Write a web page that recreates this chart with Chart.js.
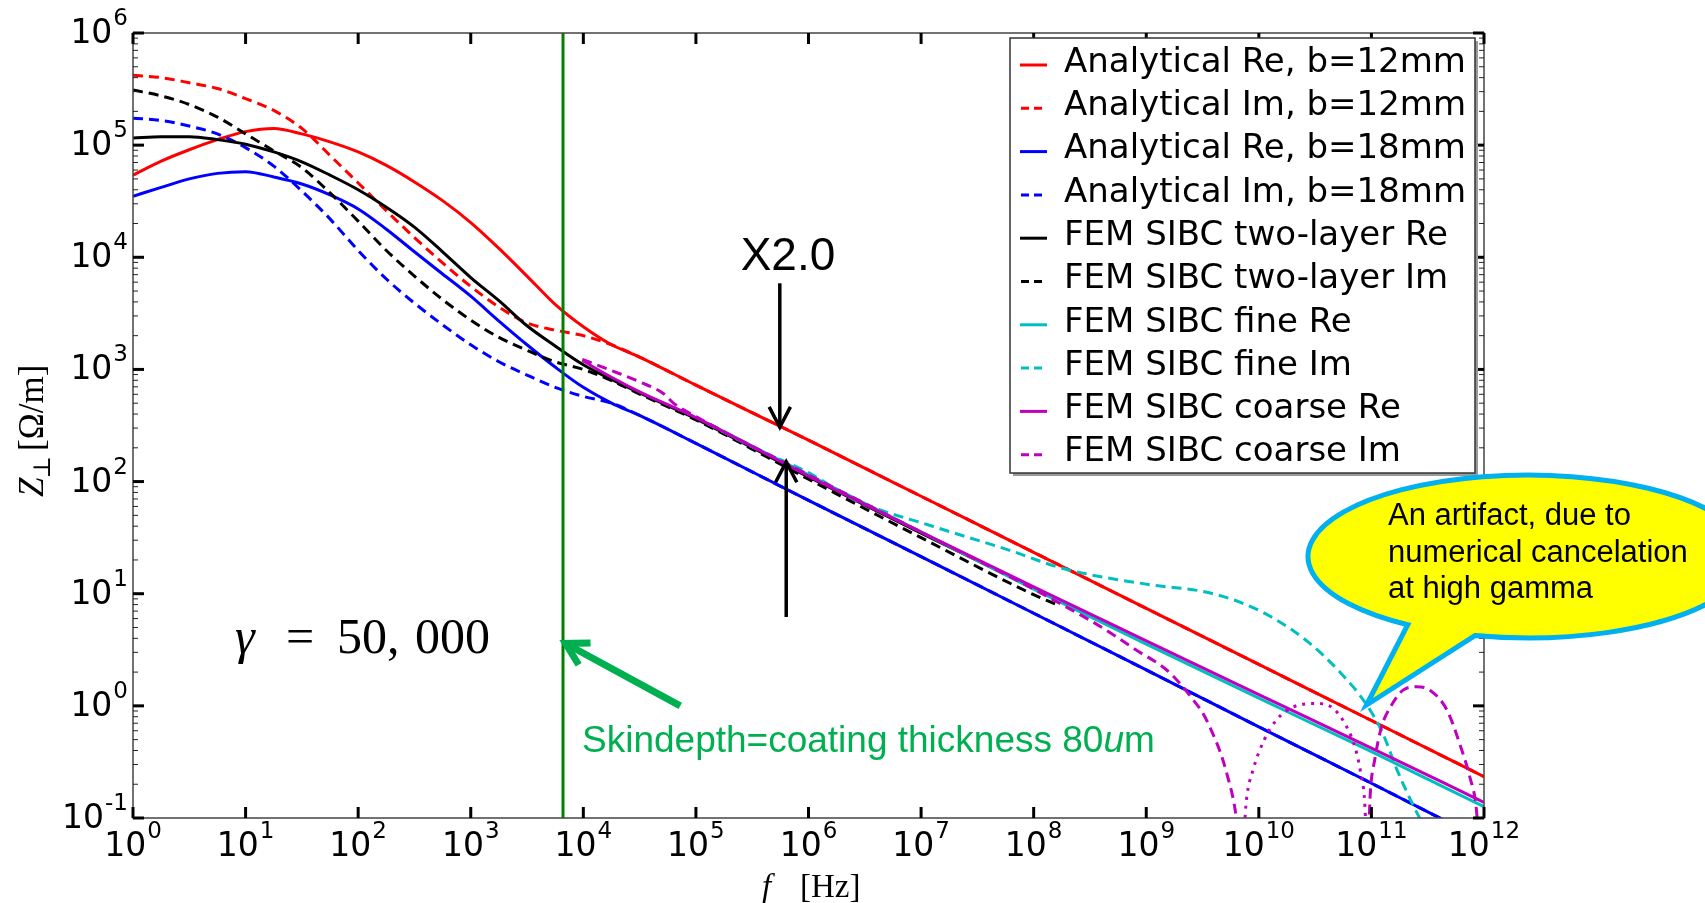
<!DOCTYPE html>
<html>
<head>
<meta charset="utf-8">
<script src="https://cdn.jsdelivr.net/npm/chart.js@4.4.1/dist/chart.umd.min.js"></script>
<style>
  html, body { margin: 0; padding: 0; background: #fff; }
  #wrap { width: 1705px; height: 903px; }
</style>
</head>
<body>
<div id="wrap"><canvas id="zChart" width="1705" height="903"></canvas></div>
<script>
// frequencies [Hz]
const fAna = [1, 1.78, 3.16, 5.62, 10, 17.8, 31.6, 56.2, 100, 178, 316, 562, 1e3, 1.78e3, 3.16e3, 5.62e3,
              1e4, 1.78e4, 3.16e4, 1e5, 1e6, 1e7, 1e8, 1e9, 1e10, 1e11, 1e12];
const reB12 = [5.4e4, 7.2e4, 9.1e4, 1.12e5, 1.32e5, 1.41e5, 1.26e5, 1.07e5, 8.7e4, 6.6e4, 4.7e4, 3.2e4, 2.04e4, 1.2e4, 6.8e3, 3.8e3,
               2.4e3, 1.66e3, 1.29e3, 724, 234, 74, 23.4, 7.4, 2.34, 0.74, 0.234];
const imB12 = [4.2e5, 4.0e5, 3.6e5, 3.2e5, 2.6e5, 2.04e5, 1.41e5, 8.1e4, 4.6e4, 2.6e4, 1.5e4, 8.9e3, 5.5e3, 3.6e3, 2.6e3, 2.24e3,
               2.0e3, 1.66e3, 1.29e3, 724, 234, 74, 23.4, 7.4, 2.34, 0.74, 0.234];
const reB18 = [3.5e4, 4.2e4, 5.0e4, 5.6e4, 5.8e4, 5.2e4, 4.5e4, 3.6e4, 2.7e4, 1.78e4, 1.12e4, 7.1e3, 4.5e3, 2.7e3, 1.66e3, 1.05e3,
               692, 501, 389, 219, 68, 21.4, 6.7, 2.09, 0.65, 0.204, 0.063];
const imB18 = [1.74e5, 1.66e5, 1.48e5, 1.26e5, 9.5e4, 6.5e4, 3.9e4, 2.2e4, 1.15e4, 6.4e3, 3.9e3, 2.5e3, 1.66e3, 1.17e3, 891, 692,
               575, 501, 389, 219, 68, 21.4, 6.7, 2.09, 0.65, 0.204, 0.063];

const fTwoRe = [1, 1.78, 3.16, 5.62, 10, 17.8, 31.6, 56.2, 100, 178, 316, 562, 1e3, 1.78e3, 3.16e3, 5.62e3,
                1e4, 1.78e4, 3.16e4, 1e5, 1e6, 1e7, 1e8, 1.45e8];
const reTwo = [1.16e5, 1.19e5, 1.19e5, 1.12e5, 1.02e5, 8.7e4, 7.1e4, 5.4e4, 4.0e4, 2.8e4, 1.86e4, 1.12e4, 6.6e3, 4.1e3, 2.45e3, 1.62e3,
               1.1e3, 813, 617, 363, 110, 34.7, 11.2, 9.3];
const fTwoIm = [1, 1.78, 3.16, 5.62, 10, 17.8, 31.6, 56.2, 100, 178, 316, 562, 1e3, 1.78e3, 3.16e3, 5.62e3,
                1e4, 1.78e4, 3.16e4, 1e5, 1e6, 1e7, 1e8, 1.55e8];
const imTwo = [3.1e5, 2.75e5, 2.3e5, 1.78e5, 1.26e5, 8.9e4, 6.3e4, 3.75e4, 2.1e4, 1.15e4, 6.8e3, 4.2e3, 2.75e3, 1.93e3, 1.48e3, 1.17e3,
               1.0e3, 794, 603, 355, 105, 31.6, 9.8, 8.1];

const fFineRe = [1.26e5, 1e6, 1e7, 1e8, 1e9, 1e10, 1e11, 1e12];
const reFine = [331, 115, 35.5, 11, 3.55, 1.17, 0.39, 0.126];
const fFineIm = [1.26e5, 3.16e5, 1e6, 2.63e6, 1.26e7, 6.03e7, 1.82e8, 1.1e9, 3.16e9, 6.61e9, 1.26e10, 2.75e10, 5.25e10,
                 8.91e10, 1.26e11, 1.66e11, 2.19e11, 2.82e11];
const imFine = [331, 204, 120, 68, 40, 24.5, 16.8, 12, 10.5, 8.5, 6.3, 3.7, 2.0, 1.05, 0.57, 0.28, 0.15, 0.09];

const fCoarseRe = [9.8e3, 1.78e4, 3.16e4, 1e5, 1e6, 1e7, 1e8, 1e9, 1e10, 1e11, 1e12];
const reCoarse = [1.2e3, 851, 631, 372, 112, 35.5, 11.5, 3.8, 1.26, 0.42, 0.138];
const fCoarseIm = [9.8e3, 1.78e4, 3.16e4, 5.13e4, 6.31e4, 1e5, 1e6, 1e7, 1e8, 1.41e8, 3.16e8, 5.5e8, 7.94e8, 1.51e9, 2.0e9,
                   2.63e9, 3.16e9, 3.98e9, 4.57e9, 5.19e9, 6.17e9, 7.0e9, 7.76e9, 8.9e9, 1.12e10, 1.45e10, 2.04e10, 3.24e10,
                   4.57e10, 6.03e10, 7.24e10, 7.94e10, 8.71e10, 9.23e10, 9.77e10, 1.07e11, 1.23e11, 1.48e11, 1.91e11,
                   2.51e11, 3.31e11, 4.68e11, 6.17e11, 7.5e11, 8.51e11, 9.12e11];
const imCoarse = [1.23e3, 977, 776, 610, 501, 380, 115, 35.5, 11, 9.1, 5.8, 4.1, 3.2, 2.1, 1.58,
                  1.12, 0.87, 0.54, 0.38, 0.25, 0.117, 0.04, 0.145, 0.27, 0.50, 0.76, 0.98, 1.05,
                  0.95, 0.65, 0.41, 0.27, 0.14, 0.04, 0.166, 0.33, 0.65, 0.98, 1.38,
                  1.48, 1.38, 0.92, 0.44, 0.23, 0.126, 0.05];

const skinF = 6.6e3;   // skin depth = coating thickness
const xExp = [0, 1, 2, 3, 4, 5, 6, 7, 8, 9, 10, 11, 12];
const yExp = [-1, 0, 1, 2, 3, 4, 5, 6];

const DASH = [10, 6];
const series = [
  { label: 'Analytical Re, b=12mm', f: fAna, z: reB12, color: '#ff0000', dash: [] },
  { label: 'Analytical Im, b=12mm', f: fAna, z: imB12, color: '#ff0000', dash: DASH },
  { label: 'Analytical Re, b=18mm', f: fAna, z: reB18, color: '#0000ff', dash: [] },
  { label: 'Analytical Im, b=18mm', f: fAna, z: imB18, color: '#0000ff', dash: DASH },
  { label: 'FEM SIBC two-layer Re', f: fTwoRe, z: reTwo, color: '#000000', dash: [] },
  { label: 'FEM SIBC two-layer Im', f: fTwoIm, z: imTwo, color: '#000000', dash: DASH },
  { label: 'FEM SIBC fine Re', f: fFineRe, z: reFine, color: '#00bfbf', dash: [] },
  { label: 'FEM SIBC fine Im', f: fFineIm, z: imFine, color: '#00bfbf', dash: DASH },
  { label: 'FEM SIBC coarse Re', f: fCoarseRe, z: reCoarse, color: '#bf00bf', dash: [] },
  { label: 'FEM SIBC coarse Im', f: fCoarseIm, z: imCoarse, color: '#bf00bf', dash: DASH }
];

const pts = (fs, zs) => fs.map((f, i) => ({ x: f, y: zs[i] }));

const datasets = series.map((s, i) => ({
  label: s.label,
  data: pts(s.f, s.z),
  borderColor: s.color,
  borderWidth: 3,
  borderDash: s.dash,
  pointRadius: 0,
  fill: false,
  cubicInterpolationMode: 'monotone',
  order: series.length - i + 1,
  // the coarse Im arch between the two zero crossings is dotted in the figure
  segment: i === 9 ? {
    borderDash: ctx => (ctx.p0.parsed.x >= 6.9e9 && ctx.p1.parsed.x <= 9.3e10) ? [3, 6] : undefined
  } : undefined
}));

datasets.push({
  label: '',
  data: [{ x: skinF, y: 10 ** yExp[0] }, { x: skinF, y: 10 ** yExp[yExp.length - 1] }],
  borderColor: '#008000',
  borderWidth: 3,
  pointRadius: 0,
  tension: 0,
  order: 0
});

const MAIN = "33px 'DejaVu Sans'";
const SUP = "23px 'DejaVu Sans'";

function seg(ctx, x1, y1, x2, y2) {
  ctx.beginPath(); ctx.moveTo(x1, y1); ctx.lineTo(x2, y2); ctx.stroke();
}

function arrow(ctx, x1, y1, x2, y2, len, ang) {
  seg(ctx, x1, y1, x2, y2);
  const a = Math.atan2(y1 - y2, x1 - x2);
  ctx.beginPath();
  ctx.moveTo(x2 + len * Math.cos(a + ang), y2 + len * Math.sin(a + ang));
  ctx.lineTo(x2, y2);
  ctx.lineTo(x2 + len * Math.cos(a - ang), y2 + len * Math.sin(a - ang));
  ctx.stroke();
}

function powLabel(ctx, e, x, yb, align) {
  const base = '10', sup = String(e);
  ctx.font = MAIN; const wb = ctx.measureText(base).width;
  ctx.font = SUP; const ws = ctx.measureText(sup).width;
  const w = wb + ws + 1;
  const x0 = align === 'right' ? x - w : x - w / 2;
  ctx.textAlign = 'left';
  ctx.font = MAIN; ctx.fillText(base, x0, yb);
  ctx.font = SUP; ctx.fillText(sup, x0 + wb + 1, yb - 18);
}

const axesPlugin = {
  id: 'axesPlugin',
  afterDatasetsDraw(chart) {
    const { ctx, chartArea: a, scales: { x, y } } = chart;
    ctx.save();
    ctx.lineCap = 'butt';
    ctx.strokeStyle = '#444'; ctx.lineWidth = 1.5;
    ctx.strokeRect(a.left, a.top, a.right - a.left, a.bottom - a.top);

    // minor y ticks
    ctx.strokeStyle = '#222'; ctx.lineWidth = 1;
    for (let e = yExp[0]; e < yExp[yExp.length - 1]; e++) {
      for (let m = 2; m < 10; m++) {
        const py = y.getPixelForValue(m * 10 ** e);
        seg(ctx, a.left, py, a.left + 5, py);
        seg(ctx, a.right, py, a.right - 5, py);
      }
    }
    // major ticks, pointing inwards on all four sides
    ctx.strokeStyle = '#000'; ctx.lineWidth = 3;
    xExp.forEach(e => {
      const px = x.getPixelForValue(10 ** e);
      seg(ctx, px, a.bottom, px, a.bottom - 11);
      seg(ctx, px, a.top, px, a.top + 11);
    });
    yExp.forEach(e => {
      const py = y.getPixelForValue(10 ** e);
      seg(ctx, a.left, py, a.left + 11, py);
      seg(ctx, a.right, py, a.right - 11, py);
    });

    ctx.fillStyle = '#000';
    ctx.textBaseline = 'alphabetic';
    xExp.forEach(e => powLabel(ctx, e, x.getPixelForValue(10 ** e), a.bottom + 38, 'center'));
    yExp.forEach(e => powLabel(ctx, e, a.left - 5, y.getPixelForValue(10 ** e) + 10, 'right'));

    // axis titles
    ctx.textAlign = 'left';
    ctx.font = "italic 33px 'Liberation Serif'";
    ctx.fillText('f', 762, 897);
    ctx.font = "33px 'Liberation Serif'";
    ctx.fillText('[Hz]', 800, 897);

    ctx.save();
    ctx.translate(43, 497);
    ctx.rotate(-Math.PI / 2);
    ctx.font = "italic 35px 'Liberation Serif'";
    ctx.fillText('Z', 0, 0);
    let wz = ctx.measureText('Z').width;
    ctx.font = "24px 'DejaVu Serif'";
    ctx.fillText('\u22A5', wz - 1, 7);
    wz += ctx.measureText('\u22A5').width + 4;
    ctx.font = "35px 'Liberation Serif'";
    ctx.fillText('[\u03A9/m]', wz, 0);
    ctx.restore();
    ctx.restore();
  }
};

const notesPlugin = {
  id: 'notesPlugin',
  afterDatasetsDraw(chart) {
    const { ctx, scales: { x, y } } = chart;
    const P = (f, z) => [x.getPixelForValue(f), y.getPixelForValue(z)];
    ctx.save();
    ctx.lineCap = 'butt';
    ctx.lineJoin = 'miter';

    // factor-of-two arrows
    ctx.strokeStyle = '#000'; ctx.lineWidth = 3.5;
    let p = P(5.56e5, 5.86e3), q = P(5.56e5, 305);
    arrow(ctx, p[0], p[1], q[0], q[1], 23, 0.48);
    p = P(6.34e5, 6.2); q = P(6.34e5, 150);
    arrow(ctx, p[0], p[1], q[0], q[1], 23, 0.48);
    ctx.fillStyle = '#000';
    ctx.font = "46px 'Liberation Sans'";
    ctx.textAlign = 'center';
    ctx.fillText('X2.0', 788, 270);

    // gamma
    ctx.textAlign = 'left';
    ctx.font = "italic 50px 'Liberation Serif'";
    ctx.fillText('\u03B3', 235, 653);
    ctx.font = "50px 'Liberation Serif'";
    ctx.textAlign = 'center';
    ctx.fillText('=', 300, 653);
    ctx.textAlign = 'left';
    ctx.fillText('50,', 337, 653);
    ctx.fillText('000', 415, 653);

    // skin depth note
    ctx.strokeStyle = '#00b050'; ctx.lineWidth = 7;
    p = P(7.26e4, 1.0); q = P(6.95e3, 3.6);
    arrow(ctx, p[0], p[1], q[0], q[1], 25, 0.52);
    ctx.fillStyle = '#00b050';
    ctx.font = "37px 'Liberation Sans'";
    const t1 = 'Skindepth=coating thickness 80';
    ctx.fillText(t1, 582, 752);
    let tx = 582 + ctx.measureText(t1).width;
    ctx.font = "italic 37px 'Liberation Sans'";
    ctx.fillText('u', tx, 752);
    tx += ctx.measureText('u').width;
    ctx.font = "37px 'Liberation Sans'";
    ctx.fillText('m', tx, 752);

    // legend
    const lx = 1010, ly = 38, lw = 465, lh = 435;
    ctx.fillStyle = '#9a9a9a';
    ctx.fillRect(lx + 3, ly + 3, lw, lh);
    ctx.fillStyle = '#fff';
    ctx.fillRect(lx, ly, lw, lh);
    ctx.strokeStyle = '#333'; ctx.lineWidth = 1.5;
    ctx.strokeRect(lx, ly, lw, lh);
    ctx.font = "34px 'DejaVu Sans'";
    series.forEach((s, i) => {
      const sy = 65 + i * 43.3;
      ctx.strokeStyle = s.color; ctx.lineWidth = 3;
      if (s.dash.length) {
        ctx.setLineDash([8, 5]);
        seg(ctx, 1021, sy, 1044, sy);
      } else {
        ctx.setLineDash([]);
        seg(ctx, 1020, sy, 1047, sy);
      }
      ctx.setLineDash([]);
      ctx.fillStyle = '#000';
      ctx.fillText(s.label, 1064, 71.7 + i * 43.3);
    });

    // callout
    const cx = 1528, cy = 556.5, rx = 220, ry = 81.5;
    const b1 = [1402, 628], b2 = [1472, 640], tip = [1366.5, 705];
    const a1 = Math.atan2((b1[1] - cy) / ry, (b1[0] - cx) / rx);
    const a2 = Math.atan2((b2[1] - cy) / ry, (b2[0] - cx) / rx);
    ctx.beginPath();
    ctx.ellipse(cx, cy, rx, ry, 0, a1, a2, false);
    ctx.lineTo(tip[0], tip[1]);
    ctx.closePath();
    ctx.fillStyle = '#ffff00';
    ctx.fill();
    ctx.strokeStyle = '#00b0f0'; ctx.lineWidth = 5;
    ctx.stroke();
    ctx.fillStyle = '#000';
    ctx.font = "31px 'Liberation Sans'";
    ctx.fillText('An artifact, due to', 1388, 525);
    ctx.fillText('numerical cancelation', 1388, 562);
    ctx.fillText('at high gamma', 1388, 598);
    ctx.restore();
  }
};

new Chart(document.getElementById('zChart').getContext('2d'), {
  type: 'line',
  data: { datasets },
  options: {
    responsive: false,
    animation: false,
    layout: { padding: { left: 133, right: 221, top: 33, bottom: 85 } },
    scales: {
      x: {
        type: 'logarithmic', min: 1, max: 1e12,
        grid: { display: false, drawTicks: false },
        border: { display: false },
        ticks: { display: false },
        afterFit: s => { s.height = 0; }
      },
      y: {
        type: 'logarithmic', min: 0.1, max: 1e6,
        grid: { display: false, drawTicks: false },
        border: { display: false },
        ticks: { display: false },
        afterFit: s => { s.width = 0; }
      }
    },
    plugins: { legend: { display: false }, tooltip: { enabled: false } }
  },
  plugins: [axesPlugin, notesPlugin]
});
</script>
</body>
</html>
